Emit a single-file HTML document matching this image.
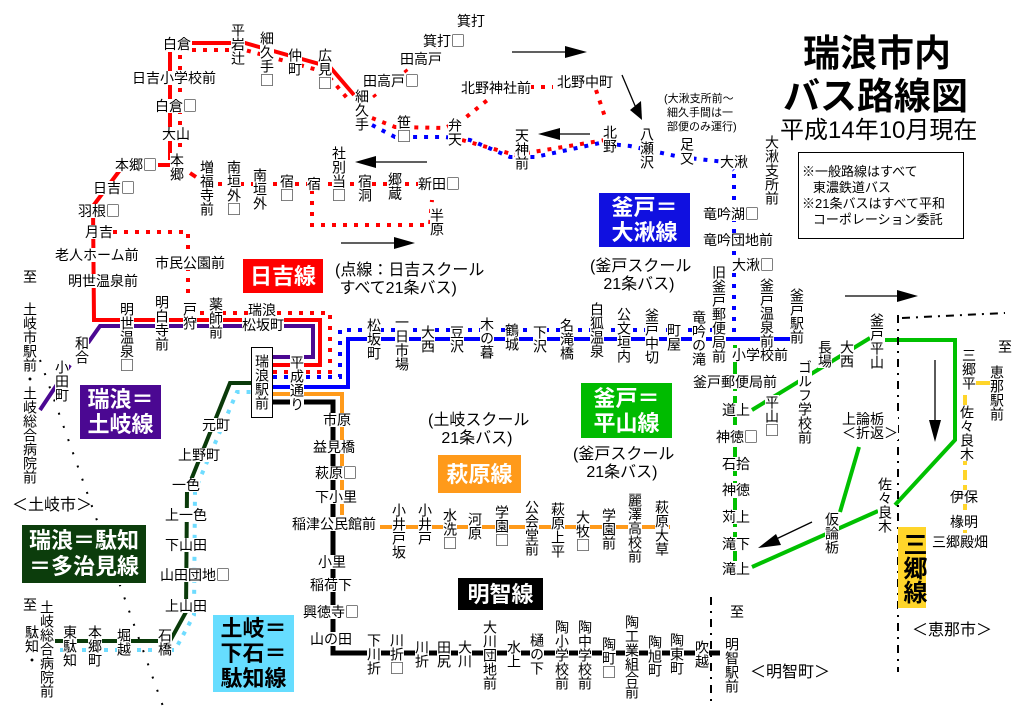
<!DOCTYPE html>
<html><head><meta charset="utf-8">
<style>
body{margin:0;width:1024px;height:723px;overflow:hidden;background:#fff;position:relative;font-family:"Liberation Sans","Noto Sans CJK JP",sans-serif}
svg{position:absolute;left:0;top:0}
.t{position:absolute;font-size:14px;line-height:14px;white-space:nowrap;background:#fff;color:#000}
.t i{font-style:normal;font-family:"Noto Sans CJK JP",sans-serif}
.v{writing-mode:vertical-rl}
.n{background:transparent}
.b{position:absolute;color:#fff;font-weight:bold;font-size:22px;line-height:27px;text-align:center;display:flex;flex-direction:column;justify-content:center;box-sizing:border-box;border-right:2px solid #fff;border-bottom:2px solid #fff}
</style></head><body>
<svg width="1024" height="723" viewBox="0 0 1024 723">
<g fill="none" stroke-linejoin="miter">
<polyline points="192,43 245,43 330,67 354,95" stroke="#f00" stroke-width="4"/>
<line x1="170" y1="52" x2="170" y2="160" stroke="#f00" stroke-width="4"/>
<line x1="158" y1="165" x2="170" y2="165" stroke="#f00" stroke-width="4"/>
<polyline points="120,170 93,206 94,320 320,320 320,365 273,365" stroke="#f00" stroke-width="4"/>
<g stroke="#f00" stroke-width="4" stroke-dasharray="4,7">
<polyline points="192,50 245,50 325,72 347,98"/>
<line x1="180" y1="55" x2="180" y2="150"/>
<line x1="218" y1="184" x2="418" y2="184"/>
<polyline points="312,190 312,225 430,225 432,200"/>
<polyline points="372,118 395,127 445,128 465,118 490,98"/>
<line x1="530" y1="87" x2="553" y2="87"/>
<line x1="596" y1="90" x2="606" y2="120"/>
<polyline points="462,140 515,155 605,140"/>
<polyline points="113,232 188,232 188,300"/>
<polyline points="200,313 330,313 330,372 273,372"/>
</g>
<line x1="373" y1="97" x2="460" y2="28" stroke="#f00" stroke-width="3" stroke-dasharray="4,36"/>
<line x1="190" y1="173" x2="196" y2="177" stroke="#f00" stroke-width="4"/>
<polyline points="40,410 70,365" stroke="#4b0892" stroke-width="4"/>
<polyline points="88,343 100,326 313,326 313,357 273,357" stroke="#4b0892" stroke-width="4"/>
<polyline points="273,387 348,387 348,339 792,339" stroke="#00f" stroke-width="4"/>
<polyline points="273,377 340,377 340,330 734,330 734,170" stroke="#00f" stroke-width="4" stroke-dasharray="4,7"/>
<polyline points="372,125 395,137 445,137 470,140 510,157 535,157 600,143 630,146 680,157 725,162 734,170" stroke="#00f" stroke-width="4" stroke-dasharray="4,7"/>
<polyline points="273,394 342,394 342,515" stroke="#ff9a1a" stroke-width="4"/>
<line x1="380" y1="527" x2="670" y2="527" stroke="#ff9a1a" stroke-width="4"/>
<polyline points="273,402 333,402 333,653 720,653" stroke="#000" stroke-width="5"/>
<polyline points="55,641 170,641 186,612 187,490 230,383 251,383" stroke="#0a3a0a" stroke-width="4"/>
<polyline points="60,650 175,650 194,615 195,490 237,392 251,392" stroke="#6fdcff" stroke-width="4" stroke-dasharray="4,7"/>
<line x1="735" y1="345" x2="735" y2="565" stroke="#00c000" stroke-width="4" stroke-dasharray="12,5"/>
<polyline points="752,410 870,338" stroke="#00c000" stroke-width="4"/>
<polyline points="885,340 955,340 955,440 895,505" stroke="#00c000" stroke-width="4"/>
<polyline points="752,567 878,511" stroke="#00c000" stroke-width="4"/>
<polyline points="840,512 859,447" stroke="#00c000" stroke-width="4"/>
<line x1="975" y1="383" x2="990" y2="383" stroke="#ffd52a" stroke-width="4"/>
<line x1="965" y1="395" x2="965" y2="533" stroke="#ffd52a" stroke-width="4" stroke-dasharray="10,5"/>
<line x1="898" y1="315" x2="898" y2="672" stroke="#000" stroke-width="2" stroke-dasharray="8,6,2,6"/>
<line x1="902" y1="318" x2="1005" y2="313" stroke="#000" stroke-width="2" stroke-dasharray="8,6,2,6"/>
<line x1="711" y1="597" x2="711" y2="702" stroke="#000" stroke-width="2" stroke-dasharray="8,6,2,6"/>
<line x1="40" y1="360" x2="165" y2="712" stroke="#000" stroke-width="2" stroke-dasharray="2,12"/>
<g stroke="#000" stroke-width="1.3">
<line x1="512" y1="52" x2="570" y2="52"/>
<line x1="622" y1="75" x2="636" y2="108"/>
<line x1="590" y1="134" x2="555" y2="134"/>
<line x1="427" y1="162" x2="370" y2="162"/>
<line x1="341" y1="243" x2="400" y2="243"/>
<line x1="845" y1="296" x2="900" y2="296"/>
<line x1="935" y1="360" x2="935" y2="425"/>
<line x1="812" y1="522" x2="772" y2="541"/>
</g>
</g>
<g fill="#000">
<polygon points="565,46 587,52 565,58"/>
<polygon points="630,110 642,120 641,101"/>
<polygon points="560,128 538,134 560,140"/>
<polygon points="376,156 355,162 376,168"/>
<polygon points="394,237 415,243 394,249"/>
<polygon points="897,290 918,296 897,302"/>
<polygon points="929,420 935,442 941,420"/>
<polygon points="776,534 758,548 781,545"/>
</g>
</svg>

<div class="t n" style="left:803px;top:34px;font-size:37px;line-height:40px;font-weight:bold">瑞浪市内</div>
<div class="t n" style="left:783px;top:77px;font-size:37px;line-height:40px;font-weight:bold">バス路線図</div>
<div class="t n" style="left:780px;top:118px;font-size:24px;line-height:26px">平成14年10月現在</div>
<div style="position:absolute;left:798px;top:152px;width:166px;height:87px;border:1px solid #000;box-sizing:border-box"></div>
<div class="t n" style="left:802px;top:164px;font-size:13px;line-height:16px">※一般路線はすべて<br>&nbsp;&nbsp;&nbsp;東濃鉄道バス<br>※21条バスはすべて平和<br>&nbsp;&nbsp;&nbsp;コーポレーション委託</div>
<div class="t n" style="left:664px;top:92px;font-size:11px;line-height:14px">(大湫支所前～<br>&nbsp;細久手間は一<br>&nbsp;部便のみ運行)</div>

<div class="b" style="left:243px;top:259px;width:82px;height:36px;background:#f00">日吉線</div>
<div class="b" style="left:599px;top:193px;width:93px;height:56px;background:#1010e0;line-height:25px">釜戸＝<br>大湫線</div>
<div class="b" style="left:80px;top:385px;width:83px;height:56px;background:#4b0892;line-height:25px">瑞浪＝<br>土岐線</div>
<div class="b" style="left:22px;top:525px;width:126px;height:60px;background:#0c3d0c;line-height:26px">瑞浪＝駄知<br>＝多治見線</div>
<div class="b" style="left:438px;top:455px;width:85px;height:40px;background:#ff9a1a">萩原線</div>
<div class="b" style="left:581px;top:383px;width:93px;height:57px;background:#00bb00;line-height:25px">釜戸＝<br>平山線</div>
<div class="b" style="left:458px;top:578px;width:87px;height:34px;background:#000">明智線</div>
<div class="b" style="left:213px;top:615px;width:83px;height:79px;background:#66ddff;color:#000;line-height:25px">土岐＝<br>下石＝<br>駄知線</div>
<div class="b" style="left:898px;top:527px;width:30px;height:83px;background:#ffd52a;color:#000;font-size:24px;writing-mode:vertical-rl;line-height:30px">三郷線</div>

<div class="t n" style="left:335px;top:262px;font-size:16px;line-height:18px">(点線：日吉スクール<br>&nbsp;すべて21条バス)</div>
<div class="t n" style="left:590px;top:258px;font-size:16px;line-height:18px">(釜戸スクール<br>&nbsp;&nbsp;&nbsp;21条バス)</div>
<div class="t n" style="left:428px;top:412px;font-size:16px;line-height:18px">(土岐スクール<br>&nbsp;&nbsp;&nbsp;21条バス)</div>
<div class="t n" style="left:573px;top:446px;font-size:16px;line-height:18px">(釜戸スクール<br>&nbsp;&nbsp;&nbsp;21条バス)</div>
<div class="t n" style="left:12px;top:497px;font-size:16px;line-height:17px">＜土岐市＞</div>
<div class="t n" style="left:750px;top:664px;font-size:16px;line-height:17px">＜明智町＞</div>
<div class="t n" style="left:912px;top:622px;font-size:16px;line-height:17px">＜恵那市＞</div>

<div class="t" style="left:163px;top:37px">白倉</div>
<div class="t" style="left:132px;top:71px">日吉小学校前</div>
<div class="t" style="left:155px;top:99px">白倉<i>□</i></div>
<div class="t" style="left:162px;top:127px">大山</div>
<div class="t" style="left:115px;top:158px">本郷<i>□</i></div>
<div class="t" style="left:93px;top:181px">日吉<i>□</i></div>
<div class="t" style="left:78px;top:204px">羽根<i>□</i></div>
<div class="t" style="left:85px;top:225px">月吉</div>
<div class="t" style="left:55px;top:248px">老人ホーム前</div>
<div class="t" style="left:68px;top:274px">明世温泉前</div>
<div class="t" style="left:155px;top:256px">市民公園前</div>
<div class="t" style="left:363px;top:74px">田高戸<i>□</i></div>
<div class="t" style="left:400px;top:52px">田高戸</div>
<div class="t" style="left:423px;top:34px">箕打<i>□</i></div>
<div class="t" style="left:457px;top:14px">箕打</div>
<div class="t" style="left:461px;top:81px">北野神社前</div>
<div class="t" style="left:557px;top:75px">北野中町</div>
<div class="t" style="left:720px;top:155px">大湫</div>
<div class="t" style="left:703px;top:207px">竜吟湖<i>□</i></div>
<div class="t" style="left:703px;top:233px">竜吟団地前</div>
<div class="t" style="left:732px;top:258px">大湫<i>□</i></div>
<div class="t" style="left:418px;top:177px">新田<i>□</i></div>
<div class="t" style="left:307px;top:177px">宿</div>
<div class="t" style="left:248px;top:303px">瑞浪</div>
<div class="t" style="left:242px;top:318px">松坂町</div>
<div class="t" style="left:323px;top:413px">市原</div>
<div class="t" style="left:313px;top:440px">益見橋</div>
<div class="t" style="left:315px;top:466px">萩原<i>□</i></div>
<div class="t" style="left:315px;top:490px">下小里</div>
<div class="t" style="left:292px;top:517px">稲津公民館前</div>
<div class="t" style="left:318px;top:555px">小里</div>
<div class="t" style="left:310px;top:578px">稲荷下</div>
<div class="t" style="left:303px;top:605px">興徳寺<i>□</i></div>
<div class="t" style="left:310px;top:632px">山の田</div>
<div class="t" style="left:202px;top:418px">元町</div>
<div class="t" style="left:178px;top:448px">上野町</div>
<div class="t" style="left:172px;top:478px">一色</div>
<div class="t" style="left:165px;top:508px">上一色</div>
<div class="t" style="left:165px;top:538px">下山田</div>
<div class="t" style="left:160px;top:568px">山田団地<i>□</i></div>
<div class="t" style="left:165px;top:599px">上山田</div>
<div class="t" style="left:23px;top:598px">至</div>
<div class="t" style="left:23px;top:270px">至</div>
<div class="t" style="left:693px;top:375px">釜戸郵便局前</div>
<div class="t" style="left:732px;top:348px">小学校前</div>
<div class="t" style="left:722px;top:403px">道上</div>
<div class="t" style="left:716px;top:430px">神徳<i>□</i></div>
<div class="t" style="left:722px;top:457px">石拾</div>
<div class="t" style="left:722px;top:483px">神徳</div>
<div class="t" style="left:722px;top:510px">苅上</div>
<div class="t" style="left:722px;top:537px">滝下</div>
<div class="t" style="left:722px;top:562px">滝上</div>
<div class="t" style="left:842px;top:412px">上論栃<br>＜折返＞</div>
<div class="t" style="left:950px;top:490px">伊保</div>
<div class="t" style="left:950px;top:515px">椽明</div>
<div class="t" style="left:932px;top:535px">三郷殿畑</div>
<div class="t" style="left:998px;top:340px">至</div>
<div class="t" style="left:730px;top:605px">至</div>

<div class="t v" style="left:231px;top:23px">平岩辻</div>
<div class="t v" style="left:260px;top:31px">細久手<i>□</i></div>
<div class="t v" style="left:288px;top:48px">仲町</div>
<div class="t v" style="left:318px;top:48px">広見<i>□</i></div>
<div class="t v" style="left:355px;top:89px">細久手</div>
<div class="t v" style="left:397px;top:115px">笹<i>□</i></div>
<div class="t v" style="left:448px;top:118px">弁天</div>
<div class="t v" style="left:515px;top:128px">天神前</div>
<div class="t v" style="left:603px;top:125px">北野</div>
<div class="t v" style="left:640px;top:127px">八瀬沢</div>
<div class="t v" style="left:680px;top:137px">足又</div>
<div class="t v" style="left:765px;top:135px">大湫支所前</div>
<div class="t v" style="left:170px;top:153px">本郷</div>
<div class="t v" style="left:200px;top:160px">増福寺前</div>
<div class="t v" style="left:227px;top:160px">南垣外<i>□</i></div>
<div class="t v" style="left:253px;top:168px">南垣外</div>
<div class="t v" style="left:280px;top:174px">宿<i>□</i></div>
<div class="t v" style="left:332px;top:146px">社別当<i>□</i></div>
<div class="t v" style="left:358px;top:174px">宿洞</div>
<div class="t v" style="left:388px;top:172px">郷蔵</div>
<div class="t v" style="left:430px;top:208px">半原</div>
<div class="t v" style="left:120px;top:302px">明世温泉<i>□</i></div>
<div class="t v" style="left:155px;top:295px">明白寺前</div>
<div class="t v" style="left:183px;top:302px">戸狩</div>
<div class="t v" style="left:209px;top:297px">薬師前</div>
<div class="t v" style="left:75px;top:336px">和合</div>
<div class="t v" style="left:55px;top:360px">小田町</div>
<div class="t v" style="left:23px;top:302px">土岐市駅前・土岐総合病院前</div>
<div class="t v" style="left:251px;top:347px;width:22px;height:71px;box-sizing:border-box;border:1px solid #000;padding:6px 3px 0 3px">瑞浪駅前</div>
<div class="t v" style="left:290px;top:355px">平成通り</div>
<div class="t v" style="left:367px;top:318px">松坂町</div>
<div class="t v" style="left:395px;top:315px">一日市場</div>
<div class="t v" style="left:421px;top:325px">大西</div>
<div class="t v" style="left:450px;top:325px">豆沢</div>
<div class="t v" style="left:480px;top:317px">木の暮</div>
<div class="t v" style="left:505px;top:323px">鶴城</div>
<div class="t v" style="left:533px;top:325px">下沢</div>
<div class="t v" style="left:560px;top:318px">名滝橋</div>
<div class="t v" style="left:590px;top:302px">白狐温泉</div>
<div class="t v" style="left:617px;top:307px">公文垣内</div>
<div class="t v" style="left:645px;top:308px">釜戸中切</div>
<div class="t v" style="left:667px;top:323px">町屋</div>
<div class="t v" style="left:692px;top:310px">竜吟の滝</div>
<div class="t v" style="left:712px;top:265px">旧釜戸郵便局前</div>
<div class="t v" style="left:760px;top:278px">釜戸温泉前</div>
<div class="t v" style="left:790px;top:288px">釜戸駅前</div>
<div class="t v" style="left:392px;top:503px">小井戸坂</div>
<div class="t v" style="left:418px;top:503px">小井戸</div>
<div class="t v" style="left:443px;top:508px">水洗<i>□</i></div>
<div class="t v" style="left:468px;top:512px">河原</div>
<div class="t v" style="left:495px;top:505px">学園<i>□</i></div>
<div class="t v" style="left:525px;top:500px">公会堂前</div>
<div class="t v" style="left:551px;top:502px">萩原上平</div>
<div class="t v" style="left:576px;top:510px">大牧<i>□</i></div>
<div class="t v" style="left:602px;top:508px">学園前</div>
<div class="t v" style="left:628px;top:493px">麗澤高校前</div>
<div class="t v" style="left:655px;top:500px">萩原大草</div>
<div class="t v" style="left:367px;top:633px">下川折</div>
<div class="t v" style="left:390px;top:633px">川折<i>□</i></div>
<div class="t v" style="left:415px;top:640px">川折</div>
<div class="t v" style="left:437px;top:640px">田尻</div>
<div class="t v" style="left:458px;top:640px">大川</div>
<div class="t v" style="left:483px;top:620px">大川団地前</div>
<div class="t v" style="left:507px;top:640px">水上</div>
<div class="t v" style="left:530px;top:633px">樋の下</div>
<div class="t v" style="left:555px;top:620px">陶小学校前</div>
<div class="t v" style="left:578px;top:620px">陶中学校前</div>
<div class="t v" style="left:602px;top:637px">陶町<i>□</i></div>
<div class="t v" style="left:625px;top:615px">陶工業組合前</div>
<div class="t v" style="left:648px;top:635px">陶旭町</div>
<div class="t v" style="left:670px;top:633px">陶東町</div>
<div class="t v" style="left:695px;top:640px">吹越</div>
<div class="t v" style="left:725px;top:637px">明智駅前</div>
<div class="t v" style="left:25px;top:625px">駄知・</div>
<div class="t v" style="left:40px;top:600px">土岐総合病院前</div>
<div class="t v" style="left:63px;top:625px">東駄知</div>
<div class="t v" style="left:88px;top:625px">本郷町</div>
<div class="t v" style="left:117px;top:628px">堀越</div>
<div class="t v" style="left:158px;top:628px">石橋</div>
<div class="t v" style="left:765px;top:395px">平山<i>□</i></div>
<div class="t v" style="left:798px;top:360px">ゴルフ学校前</div>
<div class="t v" style="left:818px;top:340px">長場</div>
<div class="t v" style="left:840px;top:340px">大西</div>
<div class="t v" style="left:870px;top:313px">釜戸平山</div>
<div class="t v" style="left:825px;top:512px">仮論栃</div>
<div class="t v" style="left:878px;top:477px">佐々良木</div>
<div class="t v" style="left:962px;top:348px">三郷平</div>
<div class="t v" style="left:960px;top:405px">佐々良木</div>
<div class="t v" style="left:990px;top:365px">恵那駅前</div>
</body></html>
